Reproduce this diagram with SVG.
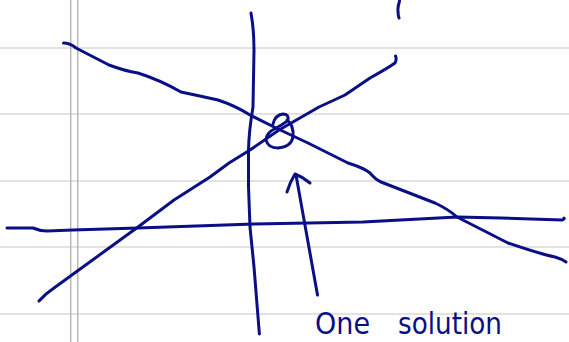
<svg xmlns="http://www.w3.org/2000/svg" width="569" height="342" viewBox="0 0 569 342">
<style>
.rule{stroke:#e2e2e2;stroke-width:2;fill:none}
.margin{stroke:#b8b8b8;stroke-width:1.5;fill:none}
.ink{stroke:#0a0f84;stroke-width:3;fill:none;stroke-linecap:round;stroke-linejoin:round}
.hand{font-family:"DejaVu Sans","Liberation Sans",sans-serif;fill:#0a0f84;font-size:30px}
</style>
<rect width="569" height="342" fill="#ffffff"/>
<g id="paper">
<line class="rule" x1="0" y1="48" x2="569" y2="48"/>
<line class="rule" x1="0" y1="114" x2="569" y2="114"/>
<line class="rule" x1="0" y1="181" x2="569" y2="181"/>
<line class="rule" x1="0" y1="247" x2="569" y2="247"/>
<line class="rule" x1="0" y1="314" x2="569" y2="314"/>
<line class="margin" x1="70.7" y1="0" x2="70.7" y2="342"/>
<line class="margin" x1="77.7" y1="0" x2="77.7" y2="342"/>
</g>
<g id="lines">
<path id="vertical" class="ink" d="M251,13 Q254,30 254,50 L253,107 Q249,130 248.5,150 L248.5,187 L250,227 L254,267 L259.4,334"/>
<path id="descending" class="ink" d="M63.5,43 Q70,43 76,48 L109,65 Q125,71 138,73 Q160,80 181,92 Q200,96 218,100 Q236,106 250,115 L276,128 L308,143 L348,163 Q364,168 370,173 Q376,180 381,182 L435,203 Q448,209 457,217 L508,243 Q540,254 555,257 Q562,259 566,262"/>
<path id="ascending" class="ink" d="M39,301 Q45,294 54,288 L138,227 L174,200 L210,177 L229,163 L250,150 L279,130 L319,107 L345,95 L370,78 Q388,68 395,63 Q397,59 395.5,56"/>
<path id="horizontal" class="ink" d="M7,228 L33,228 Q40,231 47,231 L72.6,230 L138,228 L254,224 L363,222 L457,217 L501,218 L562,220 Q565,219 564,218"/>
<path id="tick" class="ink" d="M399.5,1 Q397.5,8 398,11 Q398,15 399,18"/>
</g>
<g id="circle">
<path class="ink" d="M273,124 Q275,115 283,114 Q289,114 288,120 Q284,124 276,128 Q266,133 266,140 Q268,148 278,148 Q291,147 293,137 Q294,125 287,120"/>
</g>
<g id="arrow">
<path class="ink" d="M317.5,295 L296,175"/>
<path class="ink" d="M287,192 Q290,182 295,174 Q303,177 310,183"/>
</g>
<g id="label">
<text class="hand" y="334"><tspan x="315" textLength="55" lengthAdjust="spacingAndGlyphs">One</tspan><tspan x="398" textLength="104" lengthAdjust="spacingAndGlyphs">solution</tspan></text>
</g>
</svg>
